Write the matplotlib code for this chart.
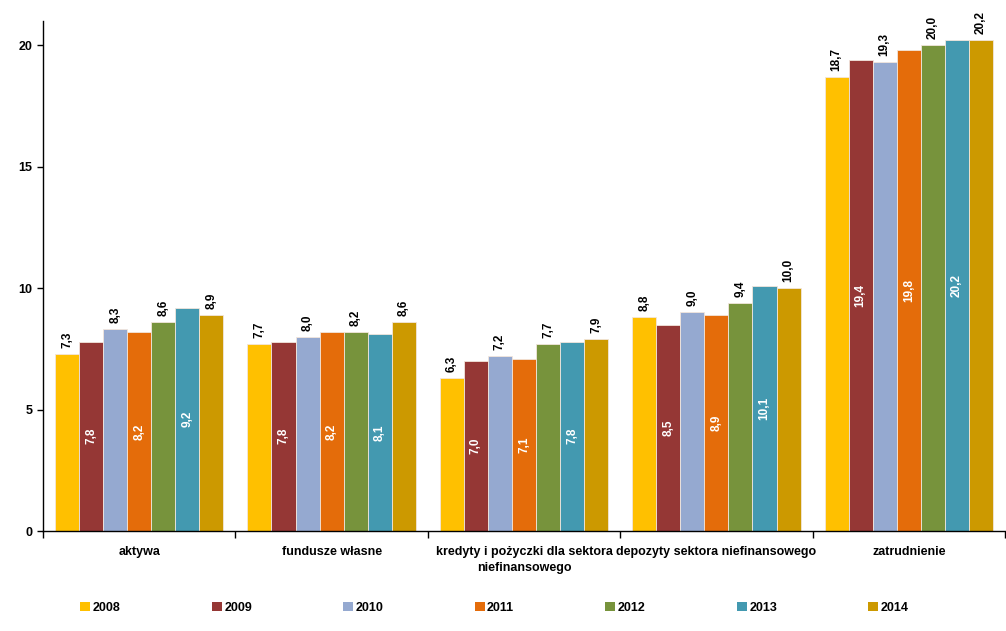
import numpy as np
import matplotlib.pyplot as plt

plt.rcParams['font.family'] = ['Liberation Sans', 'DejaVu Sans']

categories = ['aktywa', 'fundusze własne', 'kredyty i pożyczki dla sektora\nniefinansowego',
              'depozyty sektora niefinansowego', 'zatrudnienie']
years = ['2008', '2009', '2010', '2011', '2012', '2013', '2014']
v2008 = [7.3, 7.7, 6.3, 8.8, 18.7]
v2009 = [7.8, 7.8, 7.0, 8.5, 19.4]
v2010 = [8.3, 8.0, 7.2, 9.0, 19.3]
v2011 = [8.2, 8.2, 7.1, 8.9, 19.8]
v2012 = [8.6, 8.2, 7.7, 9.4, 20.0]
v2013 = [9.2, 8.1, 7.8, 10.1, 20.2]
v2014 = [8.9, 8.6, 7.9, 10.0, 20.2]
series = [v2008, v2009, v2010, v2011, v2012, v2013, v2014]
colors = ['#FFC000', '#953735', '#95A9D0', '#E46C0A', '#77933C', '#4399B0', '#CC9900']

fig = plt.figure(figsize=(10.06, 6.31), dpi=100)
ax = fig.add_axes([43/1006, 1 - 531/631, 962/1006, 510/631])

x = np.arange(len(categories))
w = 0.125
for i, (vals, c) in enumerate(zip(series, colors)):
    pos = x - 3 * w + i * w
    ax.bar(pos, vals, width=w, color=c, edgecolor='#f2e6dc', linewidth=0.6, label=years[i])
    for p, v in zip(pos, vals):
        txt = f'{v:.1f}'.replace('.', ',')
        if i % 2 == 1:
            ax.text(p, v / 2, txt, rotation=90, ha='center', va='center',
                    color='white', fontsize=8.5, fontweight='bold')
        else:
            ax.text(p, v + 0.25, txt, rotation=90, ha='center', va='bottom',
                    color='black', fontsize=8.5, fontweight='bold')

ax.set_xlim(-0.5, len(categories) - 0.5)
ax.set_ylim(0, 21)
ax.set_yticks([0, 5, 10, 15, 20])
ax.tick_params(axis='y', labelsize=9, length=4, width=1)
for t in ax.get_yticklabels():
    t.set_fontweight('bold')

ax.set_xticks(x)
ax.set_xticklabels(categories, fontsize=9, fontweight='bold', linespacing=1.45)
ax.tick_params(axis='x', which='major', length=0, pad=11)
ax.set_xticks(np.arange(len(categories) + 1) - 0.5, minor=True)
ax.tick_params(axis='x', which='minor', length=5, width=1, direction='out')

ax.spines['top'].set_visible(False)
ax.spines['right'].set_visible(False)
ax.spines['left'].set_linewidth(1)
ax.spines['bottom'].set_linewidth(1)

leg = fig.legend(loc='lower left', bbox_to_anchor=(69/1006, 6/631, 851/1006, 0.04),
                 mode='expand', ncol=7, frameon=False, handlelength=0.8, handleheight=0.8,
                 handletextpad=0.2, prop={'size': 9, 'weight': 'bold'})
for h in leg.legend_handles:
    h.set_edgecolor('none')

fig.savefig('out.png', dpi=100)
